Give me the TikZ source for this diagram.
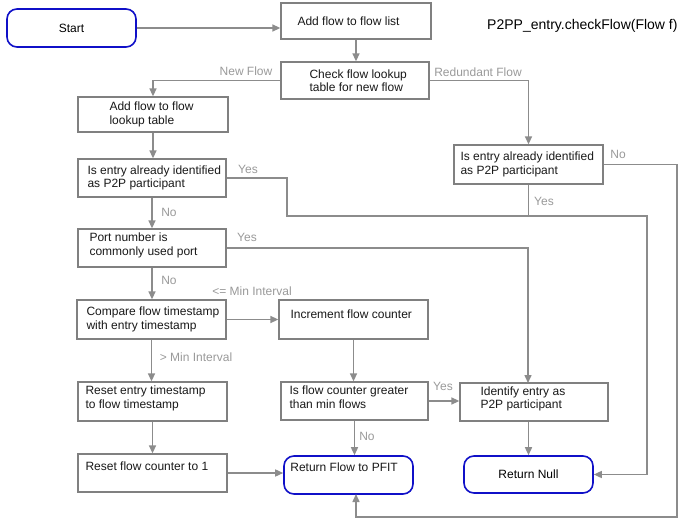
\documentclass[tikz,border=0pt]{standalone}
\usepackage{fontspec}
\setmainfont{Liberation Sans}
\usetikzlibrary{arrows.meta}
\definecolor{lngray}{HTML}{8C8C8C}
\definecolor{bxgray}{HTML}{808080}
\definecolor{lblgray}{HTML}{9A9A9A}
\definecolor{rblue}{HTML}{1010C8}
\begin{document}
\begin{tikzpicture}[x=1bp,y=-1bp,
  bx/.style={draw=bxgray, line width=1.3bp, rectangle, inner sep=0pt},
  rbx/.style={draw=rblue, line width=1.6bp, rectangle, rounded corners=10bp, inner sep=0pt, font=\fontsize{12bp}{14bp}\selectfont},
  tx/.style={inner sep=0pt, align=left, anchor=west, font=\fontsize{12bp}{13.5bp}\selectfont, text=black!90},
  lbl/.style={inner sep=0pt, text=lblgray, font=\fontsize{12bp}{14bp}\selectfont},
  ln/.style={draw=lngray, line width=1.5bp},
  ar/.style={ln, -{Triangle[length=8bp,width=7bp]}}]
\useasboundingbox (0,0) rectangle (680,518);
\fill[white] (0,0) rectangle (680,518);

% boxes
\node[rbx, minimum width=129bp, minimum height=38bp] (start) at (71.5,28) {Start};
\node[bx, minimum width=150bp, minimum height=36bp,
  label={[tx, xshift=17bp]west:Add flow to flow list}] (addlist) at (356,21) {};
\node[bx, minimum width=148bp, minimum height=37bp,
  label={[tx, xshift=29bp]west:Check flow lookup\\table for new flow}] (check) at (355,80.5) {};
\node[bx, minimum width=150bp, minimum height=35bp,
  label={[tx, xshift=32bp]west:Add flow to flow\\lookup table}] (addlookup) at (153,114.5) {};
\node[bx, minimum width=148bp, minimum height=38bp,
  label={[tx, xshift=10bp]west:Is entry already identified\\as P2P participant}] (isleft) at (152,178) {};
\node[bx, minimum width=149bp, minimum height=39bp,
  label={[tx, xshift=7bp]west:Is entry already identified\\as P2P participant}] (isright) at (528.5,164.5) {};
\node[bx, minimum width=148bp, minimum height=38bp,
  label={[tx, xshift=12bp, yshift=2.5bp]west:Port number is\\commonly used port}] (port) at (152,248) {};
\node[bx, minimum width=149bp, minimum height=39bp,
  label={[tx, xshift=10bp]west:Compare flow timestamp\\with entry timestamp}] (compare) at (151.5,319.5) {};
\node[bx, minimum width=149bp, minimum height=39bp,
  label={[tx, xshift=12bp, yshift=5.5bp]west:Increment flow counter}] (increment) at (353.5,319.5) {};
\node[bx, minimum width=149bp, minimum height=39bp,
  label={[tx, xshift=8bp, yshift=3bp]west:Reset entry timestamp\\to flow timestamp}] (resetts) at (152.5,401.5) {};
\node[bx, minimum width=149bp, minimum height=38bp,
  label={[tx, xshift=8bp, yshift=7bp]west:Reset flow counter to 1}] (resetcnt) at (152.5,473) {};
\node[bx, minimum width=147bp, minimum height=38bp,
  label={[tx, xshift=9bp, yshift=4bp]west:Is flow counter greater\\than min flows}] (isflow) at (354.5,401) {};
\node[bx, minimum width=148bp, minimum height=38bp,
  label={[tx, xshift=21bp, yshift=3bp]west:Identify entry as\\P2P participant}] (identify) at (534,402) {};
\node[rbx, minimum width=129bp, minimum height=38bp,
  label={[tx, xshift=7bp, yshift=8bp]west:Return Flow to PFIT}] (retpfit) at (348.5,475) {};
\node[rbx, minimum width=129bp, minimum height=37bp] (retnull) at (528.5,474.5) {Return Null};

\node[anchor=west, inner sep=0pt, font=\fontsize{14bp}{16bp}\selectfont] (title) at (487,26) {P2PP\_entry.checkFlow(Flow f)};

% coordinates
\coordinate (yesR) at (647,216);
\coordinate (idin) at (528,383);
\coordinate (pfitB) at (356,494);

% connectors
\draw[ar] (start.east) -- (start.east -| addlist.west);
\draw[ar] (addlist.south) -- (addlist.south |- check.north);
\draw[ar] (check.west) -| (addlookup.north);
\draw[ar] (check.east) -| (isright.north);
\draw[ar] (addlookup.south) -- (addlookup.south |- isleft.north);
\draw[ar] (isleft.east) -- (287,178) |- (yesR) |- (retnull.east);
\draw[ln] (isright.south) -- (isright.south |- yesR);
\draw[ar] (isright.east) -| (677,517) -| (pfitB);
\draw[ar] (isleft.south) -- (port.north);
\draw[ar] (port.east) -| (idin);
\draw[ar] (port.south) -- (port.south |- compare.north);
\draw[ar] (compare.east) -- (increment.west);
\draw[ar] (compare.south) -- (compare.south |- resetts.north);
\draw[ar] (resetts.south) -- (resetcnt.north);
\draw[ar] (resetcnt.east) -- (resetcnt.east -| retpfit.west);
\draw[ar] (increment.south) -- (increment.south |- isflow.north);
\draw[ar] (isflow.east) -- (isflow.east -| identify.west);
\draw[ar] (isflow.south) -- (isflow.south |- retpfit.north);
\draw[ar] (retnull.north |- identify.south) -- (retnull.north);

% labels
\node[lbl] (lnew) at (246,71) {New Flow};
\node[lbl] (lred) at (478,72) {Redundant Flow};
\node[lbl] (ly1) at (248,169) {Yes};
\node[lbl] (ly2) at (544,201) {Yes};
\node[lbl] (ln1) at (618,154) {No};
\node[lbl] (ln2) at (169,212) {No};
\node[lbl] (ly3) at (247,237) {Yes};
\node[lbl] (ln3) at (169,280) {No};
\node[lbl] (lle) at (252,291) {<= Min Interval};
\node[lbl] (lgt) at (196,357) {> Min Interval};
\node[lbl] (ly4) at (443,386) {Yes};
\node[lbl] (ln4) at (367,436) {No};
\end{tikzpicture}
\end{document}
